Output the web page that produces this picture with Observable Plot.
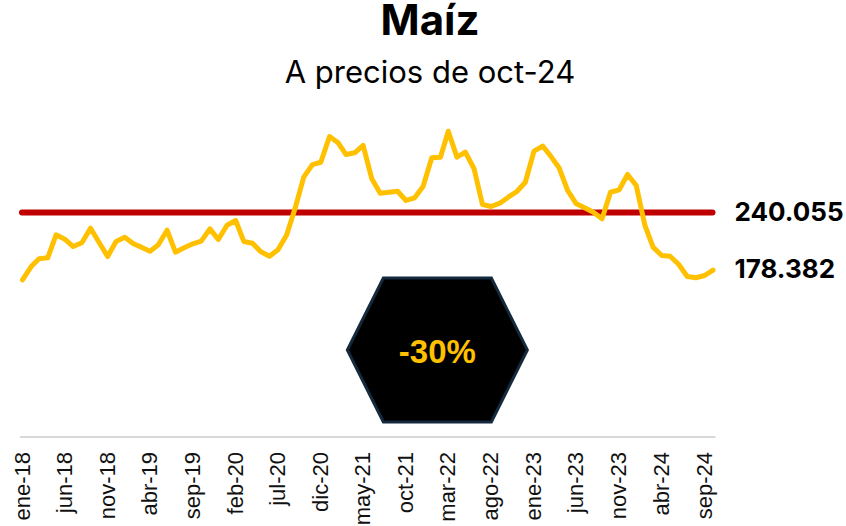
<!DOCTYPE html>
<html>
<head>
<meta charset="utf-8">
<script src="https://cdn.jsdelivr.net/npm/d3@7"></script>
<script src="https://cdn.jsdelivr.net/npm/@observablehq/plot@0.6"></script>
<style>
  body { margin: 0; background: #fff; }
  #wrap { position: relative; width: 846px; height: 526px; overflow: hidden; }
  #title { position: absolute; top: 0; left: 14px; width: 832px; text-align: center;
           font-family: Inter, sans-serif; font-weight: 700; font-size: 42px; line-height: 40px; color: #000; }
  #subtitle { position: absolute; top: 56px; left: 14px; width: 832px; text-align: center;
           font-family: Inter, sans-serif; font-weight: 400; font-size: 31px; line-height: 31px; color: #000; }
  #chart { position: absolute; top: 100px; left: 0; }
</style>
</head>
<body>
<div id="wrap">
  <div id="title">Maíz</div>
  <div id="subtitle">A precios de oct-24</div>
  <div id="chart"></div>
</div>
<script>
// Monthly series, ene-18 .. oct-24
const startYear = 2018;
const monthNames = ["ene","feb","mar","abr","may","jun","jul","ago","sep","oct","nov","dic"];
const values = [
  168.0, 182.2, 190.5, 191.5, 216.1, 211.4, 203.6, 207.6, 223.2, 208.2,
  192.9, 209.0, 213.5, 206.5, 202.9, 198.6, 205.4, 221.0, 197.5, 202.2,
  206.5, 209.3, 222.5, 211.1, 226.4, 231.4, 209.0, 207.1, 197.9, 193.2,
  200.1, 215.9, 245.3, 277.7, 291.2, 293.7, 321.2, 314.4, 301.9, 303.8,
  311.6, 276.0, 260.6, 261.6, 262.7, 252.8, 255.7, 267.7, 298.4, 299.1,
  326.8, 299.1, 304.4, 286.7, 248.5, 246.4, 249.9, 256.3, 262.4, 272.3,
  305.5, 311.0, 300.5, 287.5, 263.5, 249.2, 245.0, 240.3, 233.2, 261.6,
  264.2, 280.6, 268.8, 226.1, 202.9, 194.0, 193.2, 184.4, 171.5, 170.2,
  172.6, 178.382
];
const averageValue = [240.055];
const lastValue = [178.382];
const badgeLabel = ["-30%"];
const badgeAnchor = [{date: new Date(Date.UTC(2022, 0, 21)), value: 93}];

const dates = values.map((v, i) => new Date(Date.UTC(startYear, i, 1)));
const data = values.map((v, i) => ({date: dates[i], value: v}));
const tickDates = dates.filter((d, i) => i % 5 === 0);
const fmtMonth = d => monthNames[d.getUTCMonth()] + "-" + String(d.getUTCFullYear()).slice(2);
const fmtNum = v => v.toFixed(3);
const firstDate = dates[0], lastDate = dates[dates.length - 1];

const hexSymbol = {
  draw(ctx) {
    const w = 90, t = 54, h = 72;
    ctx.moveTo(-w, 0); ctx.lineTo(-t, -h); ctx.lineTo(t, -h);
    ctx.lineTo(w, 0); ctx.lineTo(t, h); ctx.lineTo(-t, h); ctx.closePath();
  }
};

const chart = Plot.plot({
  width: 846,
  height: 426,
  marginLeft: 22,
  marginRight: 133.5,
  marginTop: 18.4,
  marginBottom: 89.5,
  style: {fontFamily: "'Liberation Sans', Arial, sans-serif", background: "transparent"},
  x: {type: "utc", domain: [firstDate, lastDate]},
  y: {domain: [0, 340], axis: null},
  marks: [
    Plot.ruleY([0], {stroke: "#d9d9d9", strokeWidth: 2, insetLeft: -2, insetRight: -3}),
    Plot.axisX({ticks: tickDates, tickFormat: fmtMonth, tickRotate: -90, tickSize: 0,
      tickPadding: 15, fontSize: 22, fill: "#111", label: null}),
    Plot.ruleY(averageValue, {x1: firstDate, x2: lastDate, stroke: "#C00000", strokeWidth: 6, strokeLinecap: "round"}),
    Plot.line(data, {x: "date", y: "value", stroke: "#FFC000", strokeWidth: 5, strokeLinejoin: "round", strokeLinecap: "round"}),
    Plot.text(averageValue, {x: lastDate, y: d => d, text: fmtNum, dx: 21.5, textAnchor: "start",
      fontSize: 26, fontWeight: 700, fontFamily: "Inter, sans-serif", fill: "#000"}),
    Plot.text(lastValue, {x: lastDate, y: d => d, text: fmtNum, dx: 21.5, textAnchor: "start",
      fontSize: 26, fontWeight: 700, fontFamily: "Inter, sans-serif", fill: "#000"}),
    Plot.dot(badgeAnchor, {x: "date", y: "value", symbol: hexSymbol, r: 10, fill: "#000", stroke: "#13293d", strokeWidth: 3}),
    Plot.text(badgeAnchor, {x: "date", y: "value", text: () => badgeLabel[0], dy: 2, fontSize: 33, fontWeight: 700,
      fill: "#FFC000", fontFamily: "'Liberation Sans', Arial, sans-serif"})
  ]
});
document.getElementById("chart").appendChild(chart);
</script>
</body>
</html>
